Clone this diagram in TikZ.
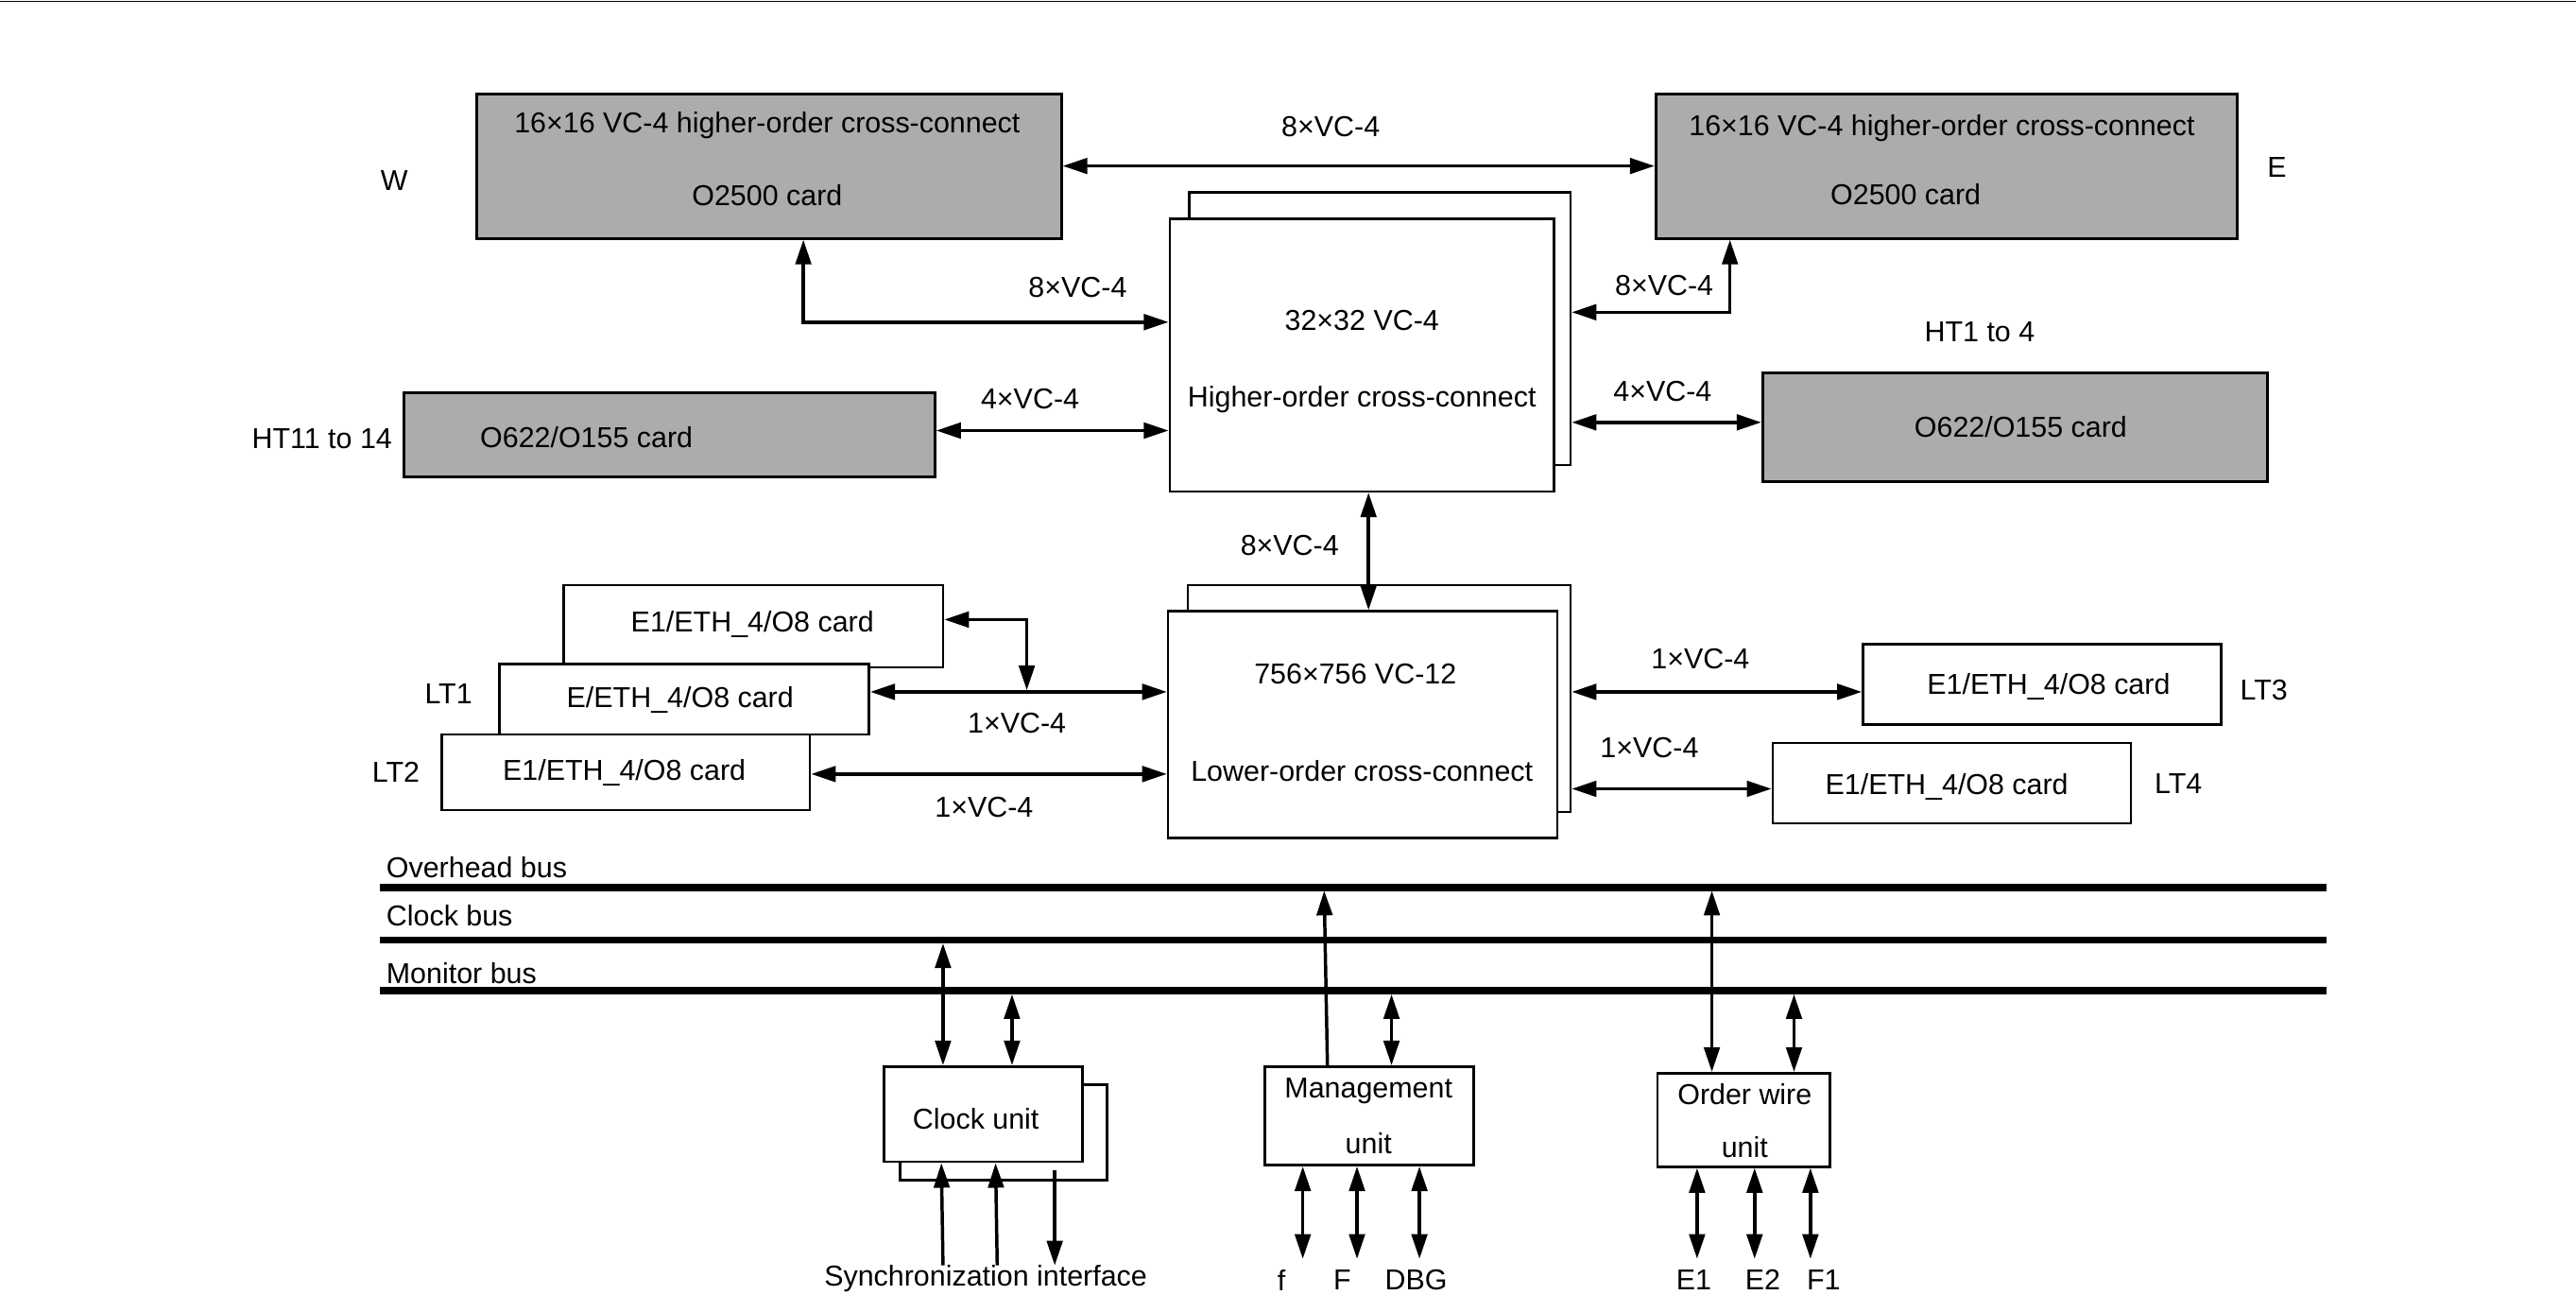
\documentclass[tikz,border=0pt]{standalone}
\usepackage{fontspec}
\setmainfont{Liberation Sans}
\usetikzlibrary{arrows.meta}
\tikzset{
  hatch/.style={draw,line width=1.8pt,fill=gray!65,inner sep=0},
  box/.style={draw,line width=1.5pt,fill=white,inner sep=0},
  lbl/.style={inner sep=0,font=\fontsize{17.5}{20}\selectfont},
  con/.style={line width=2pt,{Triangle[length=15pt,width=9.5pt]}-{Triangle[length=15pt,width=9.5pt]}},
  one/.style={line width=2pt,-{Triangle[length=15pt,width=9.5pt]}},
  bus/.style={line width=4.5pt},
}
\newcommand{\bx}[6]{\node[#1,minimum width=#4-#2,minimum height=#5-#3] (#6) at ({(#2+#4)/2},{(#3+#5)/2}) {};}
\begin{document}
\begin{tikzpicture}[x=1pt,y=-1pt]
\useasboundingbox (0,0) rectangle (1568,788);
\draw[line width=0.8pt] (0,1) -- (1568,1);
% top cards
\bx{hatch}{290}{57}{646}{145}{W}
\bx{hatch}{1008}{57}{1362}{145}{E}
\node[lbl] at (467,76) {16×16 VC-4 higher-order cross-connect};
\node[lbl] at (467,119) {O2500 card};
\node[lbl] at (1182,78) {16×16 VC-4 higher-order cross-connect};
\node[lbl] at (1160,118) {O2500 card};
\node[lbl] (wl) at (240,110) {W};
\node[lbl] (el) at (1386,102) {E};
% HO
\bx{box}{724}{117}{956}{283}{HOs}
\bx{box}{712}{133}{946}{299}{HO}
\node[lbl] at (829,195) {32×32 VC-4};
\node[lbl] at (829,243) {Higher-order cross-connect};
\draw[con] (W.east |- 0,101) -- (E.west |- 0,101);
\node[lbl] at (810,77) {8×VC-4};
\draw[con] (W.south -| 489,0) -- (489,196) -- (HO.west |- 0,196);
\node[lbl] at (656,175) {8×VC-4};
\draw[con] (HOs.east |- 0,190) -- (1053,190) -- (E.south -| 1053,0);
\node[lbl] at (1013,174) {8×VC-4};
% HT cards
\bx{hatch}{246}{239}{569}{290}{HTa}
\node[lbl] at (357,266) {O622/O155 card};
\node[lbl] at (196,267) {HT11 to 14};
\draw[con] (HTa.east |- 0,262) -- (HO.west |- 0,262);
\node[lbl] at (627,243) {4×VC-4};
\bx{hatch}{1073}{227}{1380}{293}{HTb}
\node[lbl] at (1230,260) {O622/O155 card};
\node[lbl] at (1205,202) {HT1 to 4};
\draw[con] (HOs.east |- 0,257) -- (HTb.west |- 0,257);
\node[lbl] at (1012,238) {4×VC-4};
% LO
\bx{box}{723}{356}{956}{494}{LOs}
\bx{box}{711}{372}{948}{510}{LO}
\node[lbl] at (825,410) {756×756 VC-12};
\node[lbl] at (829,469) {Lower-order cross-connect};
\draw[con] (HO.south -| 833,0) -- (LO.north -| 833,0);
\node[lbl] at (785,332) {8×VC-4};
% LT cards
\bx{box}{343}{356}{574}{406}{LTa}
\bx{box}{304}{404}{529}{447}{LTb}
\bx{box}{269}{447}{493}{493}{LTc}
\node[lbl] at (458,380) {E1/ETH\_4/O8 card};
\node[lbl] at (414,426) {E/ETH\_4/O8 card};
\node[lbl] at (380,470) {E1/ETH\_4/O8 card};
\node[lbl] at (273,422) {LT1};
\node[lbl] at (241,470) {LT2};
\coordinate (j) at (625,420);
\draw[con] (LTa.east |- 0,377) -- (625,377) -- (j);
\draw[con] (LTb.east |- 0,421) -- (LO.west |- 0,421);
\node[lbl] at (619,440) {1×VC-4};
\draw[con] (LTc.east |- 0,471) -- (LO.west |- 0,471);
\node[lbl] at (599,491) {1×VC-4};
\bx{box}{1134}{392}{1352}{441}{LT3}
\node[lbl] at (1247,418) {E1/ETH\_4/O8 card};
\node[lbl] at (1378,420) {LT3};
\draw[con] (LOs.east |- 0,421) -- (LT3.west |- 0,421);
\node[lbl] at (1035,401) {1×VC-4};
\bx{box}{1079}{452}{1297}{501}{LT4}
\node[lbl] at (1185,479) {E1/ETH\_4/O8 card};
\node[lbl] at (1326,477) {LT4};
\draw[con] (LOs.east |- 0,480) -- (LT4.west |- 0,480);
\node[lbl] at (1004,455) {1×VC-4};
% buses
\coordinate (ob) at (231,540); \coordinate (ob2) at (1416,540);
\coordinate (cb) at (231,572); \coordinate (cb2) at (1416,572);
\coordinate (mb) at (231,603); \coordinate (mb2) at (1416,603);
\draw[bus] (ob) -- (ob2); \draw[bus] (cb) -- (cb2); \draw[bus] (mb) -- (mb2);
\node[lbl,anchor=west] at (235,528) {Overhead bus};
\node[lbl,anchor=west] at (235,557) {Clock bus};
\node[lbl,anchor=west] at (235,592) {Monitor bus};
% clock unit
\bx{box}{548}{660}{674}{718}{CKs}
\bx{box}{538}{649}{659}{707}{CK}
\node[lbl] at (594,681) {Clock unit};
\draw[con] (574,574) -- (CK.north -| 574,0);
\draw[con] (616,605) -- (CK.north -| 616,0);
\draw[one] (574,770) -- (CK.south -| 573,0);
\draw[one] (607,770) -- (CK.south -| 606,0);
\draw[one] (642,712) -- (642,770);
\node[lbl] at (600,778) {Synchronization interface};
% management
\bx{box}{770}{649}{897}{709}{MG}
\node[lbl] at (833,664) {Management};
\node[lbl] at (833,696) {unit};
\draw[one] (MG.north -| 808,0) -- (806,542);
\draw[con] (847,605) -- (MG.north -| 847,0);
\foreach \xx in {793,826,864} \draw[con] (MG.south -| \xx,0) -- (\xx,766);
\node[lbl] at (780,779) {f};
\node[lbl] at (817,779) {F};
\node[lbl] at (862,779) {DBG};
% order wire
\bx{box}{1009}{653}{1114}{710}{OW}
\node[lbl] at (1062,666) {Order wire};
\node[lbl] at (1062,698) {unit};
\draw[con] (1042,542) -- (OW.north -| 1042,0);
\draw[con] (1092,605) -- (OW.north -| 1092,0);
\foreach \xx in {1033,1068,1102} \draw[con] (OW.south -| \xx,0) -- (\xx,766);
\node[lbl] at (1031,779) {E1};
\node[lbl] at (1073,779) {E2};
\node[lbl] at (1110,779) {F1};
\end{tikzpicture}
\end{document}
